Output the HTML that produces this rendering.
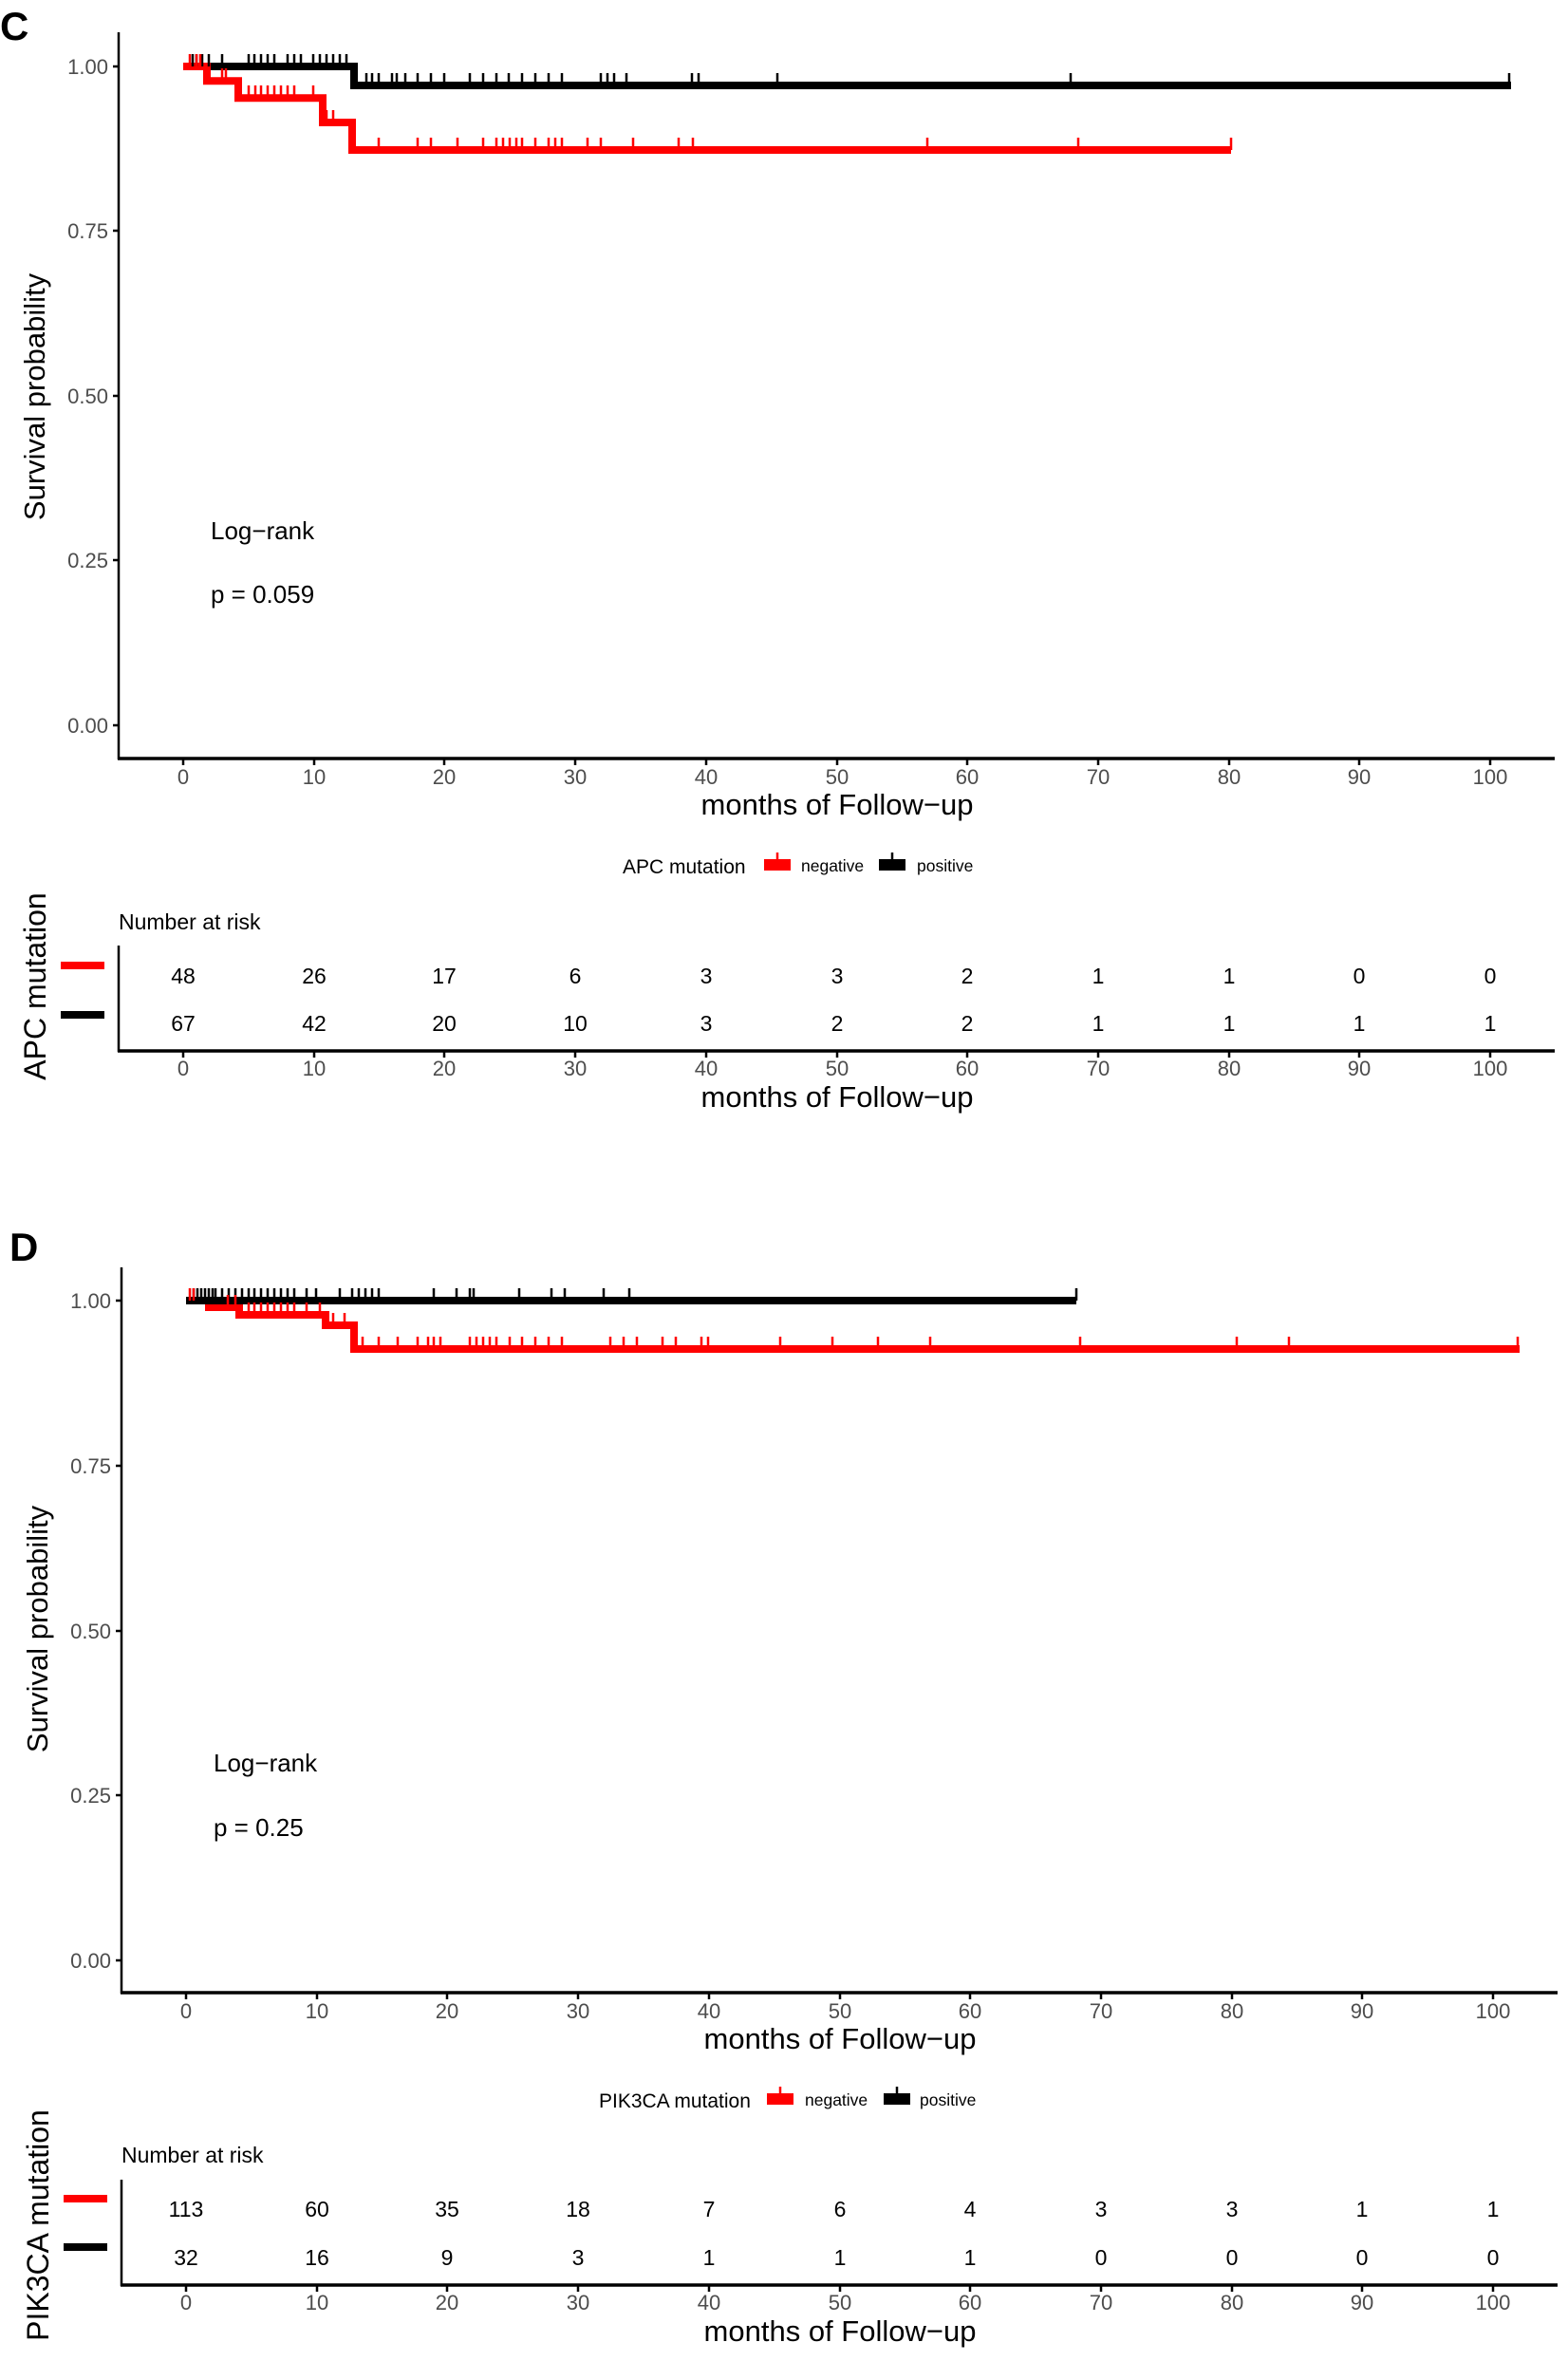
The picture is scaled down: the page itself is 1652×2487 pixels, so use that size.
<!DOCTYPE html>
<html><head><meta charset="utf-8"><style>
body{margin:0;background:#fff}
svg text{font-family:"Liberation Sans",Arial,sans-serif}
</style></head><body>
<svg width="1652" height="2482" viewBox="0 0 1652 2482" xmlns="http://www.w3.org/2000/svg">
<!-- ========== PANEL C ========== -->
<text x="0" y="42" font-size="42" font-weight="bold">C</text>
<g stroke="#000" stroke-width="2.5" fill="none">
<line x1="125" y1="34" x2="125" y2="800"/>
<line x1="124" y1="799" x2="1638" y2="799" stroke-width="3.5"/>
</g>
<g font-size="22" fill="#4d4d4d" text-anchor="end">
<text x="114" y="78">1.00</text><text x="114" y="251">0.75</text><text x="114" y="425">0.50</text><text x="114" y="598">0.25</text><text x="114" y="772">0.00</text>
</g>
<g stroke="#000" stroke-width="2.5"><path d="M119,70H125M119,243H125M119,417H125M119,590H125M119,764H125"/>
<path d="M193,800v6M331,800v6M468,800v6M606,800v6M744,800v6M882,800v6M1019,800v6M1157,800v6M1295,800v6M1432,800v6M1570,800v6"/></g>
<g font-size="22" fill="#4d4d4d" text-anchor="middle">
<text x="193" y="826">0</text><text x="331" y="826">10</text><text x="468" y="826">20</text><text x="606" y="826">30</text><text x="744" y="826">40</text><text x="882" y="826">50</text><text x="1019" y="826">60</text><text x="1157" y="826">70</text><text x="1295" y="826">80</text><text x="1432" y="826">90</text><text x="1570" y="826">100</text>
</g>
<text x="882" y="858" font-size="31" text-anchor="middle">months of Follow−up</text>
<text transform="translate(47,418) rotate(-90)" font-size="31" text-anchor="middle">Survival probability</text>
<text x="222" y="568" font-size="26">Log−rank</text>
<text x="222" y="635" font-size="26">p = 0.059</text>
<path d="M193,70H373V90H1592" stroke="#000" stroke-width="8" fill="none"/>
<path d="M193,70H218V85.3H251V103.3H340V129H371V158H1297" stroke="#f00" stroke-width="8" fill="none"/>
<path stroke="#000" stroke-width="2.5" d="M203,57v13M207,57v13M213,57v13M220,57v13M234,57v13M262,57v13M268,57v13M275,57v13M282,57v13M289,57v13M303,57v13M310,57v13M317,57v13M330,57v13M337,57v13M344,57v13M351,57v13M358,57v13M365,57v13M386,77v13M392,77v13M399,77v13M413,77v13M418,77v13M427,77v13M440,77v13M454,77v13M468,77v13M495,77v13M509,77v13M523,77v13M536,77v13M550,77v13M564,77v13M578,77v13M592,77v13M633,77v13M640,77v13M647,77v13M660,77v13M729,77v13M736,77v13M819,77v13M1128,77v13M1590,77v13"/>
<path stroke="#f00" stroke-width="2.5" d="M200,57v13M207,57v13M211,57v13M234,72v13M238,72v13M262,90v13M269,90v13M275,90v13M282,90v13M289,90v13M296,90v13M303,90v13M310,90v13M330,90v13M344,116v13M351,116v13M399,145v13M440,145v13M454,145v13M482,145v13M509,145v13M523,145v13M530,145v13M537,145v13M544,145v13M550,145v13M564,145v13M578,145v13M585,145v13M592,145v13M619,145v13M633,145v13M667,145v13M715,145v13M730,145v13M977,145v13M1136,145v13M1297,145v13"/>
<!-- legend C -->
<text x="656" y="920" font-size="21">APC mutation</text>
<rect x="805" y="905" width="28" height="12" fill="#f00"/><line x1="819" y1="898" x2="819" y2="917" stroke="#f00" stroke-width="2.5"/>
<text x="844" y="918" font-size="17.5">negative</text>
<rect x="926" y="905" width="28" height="12" fill="#000"/><line x1="940" y1="898" x2="940" y2="917" stroke="#000" stroke-width="2.5"/>
<text x="966" y="918" font-size="17.5">positive</text>
<!-- risk table C -->
<text x="125" y="979" font-size="23">Number at risk</text>
<g stroke="#000" fill="none"><line x1="125" y1="996" x2="125" y2="1108" stroke-width="2.5"/><line x1="124" y1="1107" x2="1638" y2="1107" stroke-width="3.5"/>
<path stroke-width="2.5" d="M193,1108v6M331,1108v6M468,1108v6M606,1108v6M744,1108v6M882,1108v6M1019,1108v6M1157,1108v6M1295,1108v6M1432,1108v6M1570,1108v6"/></g>
<rect x="64" y="1013" width="46" height="8" fill="#f00"/><rect x="64" y="1065" width="46" height="8" fill="#000"/>
<text transform="translate(48,1039) rotate(-90)" font-size="32" text-anchor="middle">APC mutation</text>
<g font-size="23" text-anchor="middle">
<text x="193" y="1036">48</text><text x="331" y="1036">26</text><text x="468" y="1036">17</text><text x="606" y="1036">6</text><text x="744" y="1036">3</text><text x="882" y="1036">3</text><text x="1019" y="1036">2</text><text x="1157" y="1036">1</text><text x="1295" y="1036">1</text><text x="1432" y="1036">0</text><text x="1570" y="1036">0</text>
<text x="193" y="1086">67</text><text x="331" y="1086">42</text><text x="468" y="1086">20</text><text x="606" y="1086">10</text><text x="744" y="1086">3</text><text x="882" y="1086">2</text><text x="1019" y="1086">2</text><text x="1157" y="1086">1</text><text x="1295" y="1086">1</text><text x="1432" y="1086">1</text><text x="1570" y="1086">1</text>
</g>
<g font-size="22" fill="#4d4d4d" text-anchor="middle">
<text x="193" y="1133">0</text><text x="331" y="1133">10</text><text x="468" y="1133">20</text><text x="606" y="1133">30</text><text x="744" y="1133">40</text><text x="882" y="1133">50</text><text x="1019" y="1133">60</text><text x="1157" y="1133">70</text><text x="1295" y="1133">80</text><text x="1432" y="1133">90</text><text x="1570" y="1133">100</text>
</g>
<text x="882" y="1166" font-size="31" text-anchor="middle">months of Follow−up</text>

<!-- ========== PANEL D ========== -->
<text x="10" y="1328" font-size="42" font-weight="bold">D</text>
<g stroke="#000" stroke-width="2.5" fill="none">
<line x1="128" y1="1335" x2="128" y2="2100"/>
<line x1="127" y1="2099" x2="1641" y2="2099" stroke-width="3.5"/>
</g>
<g font-size="22" fill="#4d4d4d" text-anchor="end">
<text x="117" y="1378">1.00</text><text x="117" y="1552">0.75</text><text x="117" y="1726">0.50</text><text x="117" y="1899">0.25</text><text x="117" y="2073">0.00</text>
</g>
<g stroke="#000" stroke-width="2.5"><path d="M122,1370H128M122,1544H128M122,1718H128M122,1891H128M122,2065H128"/>
<path d="M196,2100v6M334,2100v6M471,2100v6M609,2100v6M747,2100v6M885,2100v6M1022,2100v6M1160,2100v6M1298,2100v6M1435,2100v6M1573,2100v6"/></g>
<g font-size="22" fill="#4d4d4d" text-anchor="middle">
<text x="196" y="2126">0</text><text x="334" y="2126">10</text><text x="471" y="2126">20</text><text x="609" y="2126">30</text><text x="747" y="2126">40</text><text x="885" y="2126">50</text><text x="1022" y="2126">60</text><text x="1160" y="2126">70</text><text x="1298" y="2126">80</text><text x="1435" y="2126">90</text><text x="1573" y="2126">100</text>
</g>
<text x="885" y="2158" font-size="31" text-anchor="middle">months of Follow−up</text>
<text transform="translate(50,1716) rotate(-90)" font-size="31" text-anchor="middle">Survival probability</text>
<text x="225" y="1866" font-size="26">Log−rank</text>
<text x="225" y="1934" font-size="26">p = 0.25</text>
<path d="M196,1370H220V1377H252V1385H343V1396H373V1421H1601" stroke="#f00" stroke-width="8" fill="none"/>
<path d="M196,1370H1134" stroke="#000" stroke-width="8" fill="none"/>
<path stroke="#000" stroke-width="2.5" d="M204,1357v13M208,1357v13M212,1357v13M216,1357v13M220,1357v13M224,1357v13M227,1357v13M234,1357v13M241,1357v13M248,1357v13M255,1357v13M262,1357v13M268,1357v13M275,1357v13M282,1357v13M289,1357v13M296,1357v13M303,1357v13M310,1357v13M323,1357v13M333,1357v13M358,1357v13M371,1357v13M378,1357v13M385,1357v13M392,1357v13M399,1357v13M457,1357v13M481,1357v13M495,1357v13M499,1357v13M547,1357v13M581,1357v13M595,1357v13M636,1357v13M663,1357v13M1134,1357v13"/>
<path stroke="#f00" stroke-width="2.5" d="M200,1357v13M204,1357v13M240,1364v13M248,1364v13M262,1372v13M268,1372v13M275,1372v13M282,1372v13M289,1372v13M296,1372v13M303,1372v13M310,1372v13M323,1372v13M337,1372v13M351,1383v13M363,1383v13M382,1408v13M399,1408v13M419,1408v13M440,1408v13M451,1408v13M457,1408v13M464,1408v13M495,1408v13M502,1408v13M509,1408v13M516,1408v13M523,1408v13M537,1408v13M550,1408v13M564,1408v13M578,1408v13M592,1408v13M643,1408v13M657,1408v13M671,1408v13M698,1408v13M712,1408v13M739,1408v13M746,1408v13M822,1408v13M877,1408v13M925,1408v13M980,1408v13M1138,1408v13M1303,1408v13M1358,1408v13M1599,1408v13"/>
<!-- legend D -->
<text x="631" y="2220" font-size="21">PIK3CA mutation</text>
<rect x="808" y="2205" width="28" height="12" fill="#f00"/><line x1="822" y1="2198" x2="822" y2="2217" stroke="#f00" stroke-width="2.5"/>
<text x="848" y="2218" font-size="17.5">negative</text>
<rect x="931" y="2205" width="28" height="12" fill="#000"/><line x1="945" y1="2198" x2="945" y2="2217" stroke="#000" stroke-width="2.5"/>
<text x="969" y="2218" font-size="17.5">positive</text>
<!-- risk table D -->
<text x="128" y="2278" font-size="23">Number at risk</text>
<g stroke="#000" fill="none"><line x1="128" y1="2296" x2="128" y2="2408" stroke-width="2.5"/><line x1="127" y1="2407" x2="1641" y2="2407" stroke-width="3.5"/>
<path stroke-width="2.5" d="M196,2408v6M334,2408v6M471,2408v6M609,2408v6M747,2408v6M885,2408v6M1022,2408v6M1160,2408v6M1298,2408v6M1435,2408v6M1573,2408v6"/></g>
<rect x="67" y="2312" width="46" height="8" fill="#f00"/><rect x="67" y="2363" width="46" height="8" fill="#000"/>
<text transform="translate(51,2344) rotate(-90)" font-size="32" text-anchor="middle">PIK3CA mutation</text>
<g font-size="23" text-anchor="middle">
<text x="196" y="2335">113</text><text x="334" y="2335">60</text><text x="471" y="2335">35</text><text x="609" y="2335">18</text><text x="747" y="2335">7</text><text x="885" y="2335">6</text><text x="1022" y="2335">4</text><text x="1160" y="2335">3</text><text x="1298" y="2335">3</text><text x="1435" y="2335">1</text><text x="1573" y="2335">1</text>
<text x="196" y="2386">32</text><text x="334" y="2386">16</text><text x="471" y="2386">9</text><text x="609" y="2386">3</text><text x="747" y="2386">1</text><text x="885" y="2386">1</text><text x="1022" y="2386">1</text><text x="1160" y="2386">0</text><text x="1298" y="2386">0</text><text x="1435" y="2386">0</text><text x="1573" y="2386">0</text>
</g>
<g font-size="22" fill="#4d4d4d" text-anchor="middle">
<text x="196" y="2433">0</text><text x="334" y="2433">10</text><text x="471" y="2433">20</text><text x="609" y="2433">30</text><text x="747" y="2433">40</text><text x="885" y="2433">50</text><text x="1022" y="2433">60</text><text x="1160" y="2433">70</text><text x="1298" y="2433">80</text><text x="1435" y="2433">90</text><text x="1573" y="2433">100</text>
</g>
<text x="885" y="2466" font-size="31" text-anchor="middle">months of Follow−up</text>
</svg>
</body></html>
